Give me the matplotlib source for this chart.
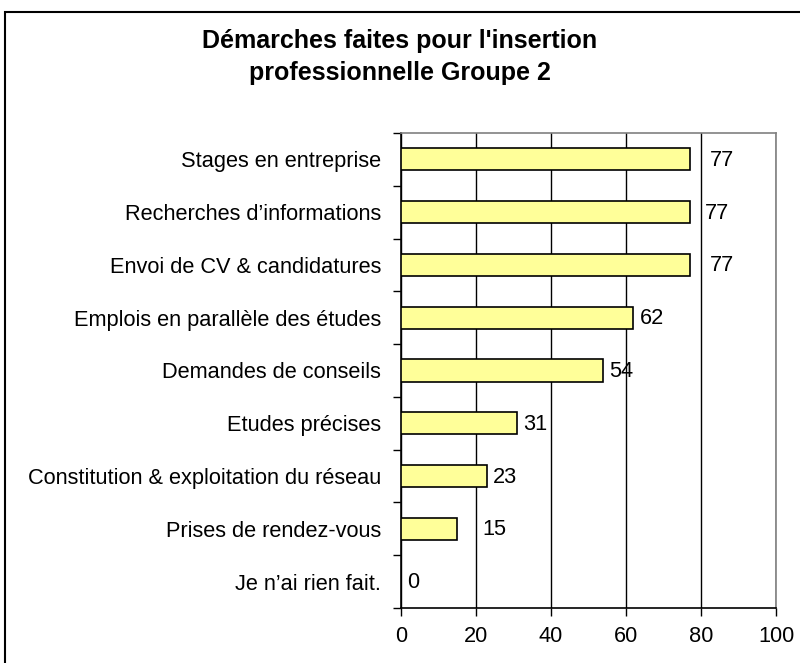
import matplotlib
matplotlib.use("Agg")
import matplotlib.pyplot as plt
from matplotlib.patches import Rectangle

# data, top to bottom as in the chart
categories = [
    "Stages en entreprise",
    "Recherches d\u2019informations",
    "Envoi de CV & candidatures",
    "Emplois en parallèle des études",
    "Demandes de conseils",
    "Etudes précises",
    "Constitution & exploitation du réseau",
    "Prises de rendez-vous",
    "Je n\u2019ai rien fait.",
]
values = [77, 77, 77, 62, 54, 31, 23, 15, 0]
x_ticks = [0, 20, 40, 60, 80, 100]
title = "Démarches faites pour l'insertion\nprofessionnelle Groupe 2"

# label gap after the bar end (pixels), as placed in the original
label_gap = [20, 15, 20, 6, 6, 6, 6, 25, 6]

plt.rcParams['font.family'] = ['Liberation Sans', 'DejaVu Sans']
fs = 15.7

fig = plt.figure(figsize=(8, 6.63), dpi=100)
ax = fig.add_axes([0.501, 0.083, 0.469, 0.7164])

n = len(categories)
ypos = list(range(n))
ax.barh(ypos, values, height=0.42, color="#FFFF99", edgecolor="black", linewidth=1.2, zorder=3)

ax.set_xlim(0, 100)
ax.set_ylim(n - 0.5, -0.5)
ax.set_xticks(x_ticks)
ax.set_xticklabels([str(t) for t in x_ticks], fontsize=fs)
ax.xaxis.grid(True, color="black", linewidth=1.0, zorder=0)

# category labels centred on bars, tick marks between categories
ax.set_yticks([i - 0.5 for i in range(n + 1)])
ax.set_yticklabels([])
ax.set_yticks(ypos, minor=True)
ax.set_yticklabels(categories, minor=True, fontsize=fs)
ax.tick_params(axis="y", which="minor", length=0, pad=14)
ax.tick_params(axis="y", which="major", length=6, width=1.0, direction="out")
ax.tick_params(axis="x", length=6, width=1.0, direction="out", pad=7)

for s in ["left", "bottom"]:
    ax.spines[s].set_color("black")
    ax.spines[s].set_linewidth(1.2)
for s in ["top", "right"]:
    ax.spines[s].set_color("#808080")
    ax.spines[s].set_linewidth(1.2)

for i, v in enumerate(values):
    ax.annotate(str(v), (v, i), xytext=(label_gap[i], -1), textcoords="offset pixels",
                ha="left", va="center", fontsize=fs)

fig.text(0.5, 1 - 57 / 663, title, ha="center", va="center", fontsize=18,
         fontweight="bold", linespacing=1.47)

# outer chart frame (runs off the right and bottom edges)
fig.patches.append(Rectangle((5 / 800, -0.05), 1.2, 1 - 12 / 663 + 0.05, transform=fig.transFigure,
                             fill=False, edgecolor="black", linewidth=1.5))

fig.savefig("out.png", dpi=100)
